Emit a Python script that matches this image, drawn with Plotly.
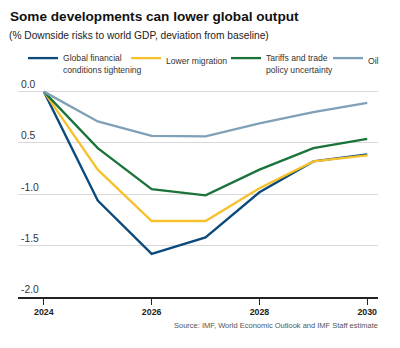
import plotly.graph_objects as go

years = [2024, 2025, 2026, 2027, 2028, 2029, 2030]
financial = [0.0, -1.06, -1.58, -1.42, -0.98, -0.68, -0.61]
migration = [0.0, -0.76, -1.26, -1.26, -0.94, -0.68, -0.62]
tariffs = [0.0, -0.55, -0.95, -1.01, -0.76, -0.55, -0.46]
oil = [0.0, -0.29, -0.43, -0.435, -0.31, -0.20, -0.11]

names = ["Global financial<br>conditions tightening", "Lower migration",
         "Tariffs and trade<br>policy uncertainty", "Oil"]
colors = ["#0d4a7c", "#f6c12c", "#1a7339", "#7fa0b6"]
series = [financial, migration, tariffs, oil]
legend_widths = [58, 55, 57, 14]

ytickvals = [0.0, -0.5, -1.0, -1.5, -2.0]
yticktext = ["0.0", "0.5", "-1.0", "-1.5", "-2.0"]
xtickvals = [2024, 2026, 2028, 2030]

FONT = "Liberation Sans, Arial, sans-serif"
W, H = 400, 348
ML, MR, MT, MB = 18, 22, 75, 51
PW, PH = W - ML - MR, H - MT - MB

fig = go.Figure()
for n, c, s, lw in zip(names, colors, series, legend_widths):
    fig.add_trace(go.Scatter(x=years, y=s, name=n, mode="lines",
                             line=dict(color=c, width=2.3), legendwidth=lw))

fig.update_layout(
    width=W, height=H,
    margin=dict(l=ML, r=MR, t=MT, b=MB),
    paper_bgcolor="white", plot_bgcolor="white",
    font=dict(family=FONT, color="#333333"),
    title=dict(text="<b>Some developments can lower global output</b>",
               x=10 / W, xref="container", xanchor="left",
               y=1 - 16 / H, yref="container", yanchor="middle",
               font=dict(size=13.6, color="#111111", family=FONT)),
    showlegend=True,
    legend=dict(orientation="h", x=(23 - ML) / PW, xanchor="left",
                y=(H - MB - 46) / PH, yanchor="top",
                font=dict(size=8.6, color="#333333"),
                traceorder="normal", valign="top", itemwidth=30,
                bgcolor="rgba(0,0,0,0)"),
    annotations=[
        dict(text="(% Downside risks to world GDP, deviation from baseline)",
             x=(10 - ML) / PW, xref="paper", xshift=-3,
             y=(H - MB - 35.5) / PH, yref="paper",
             showarrow=False, font=dict(size=10.2, color="#222222"),
             xanchor="left", yanchor="middle"),
        dict(text="Source: IMF, World Economic Outlook and IMF Staff estimate",
             x=(380 - ML) / PW, xref="paper", y=(H - MB - 325.5) / PH, yref="paper",
             showarrow=False, font=dict(size=7.5, color="#555555"),
             xanchor="right", yanchor="middle"),
    ],
)

fig.update_xaxes(range=[2023.52, 2030.2], tickvals=xtickvals,
                 ticks="outside", ticklen=6, tickwidth=1.3, tickcolor="#222222",
                 showline=True, linecolor="#222222", linewidth=1.5,
                 showgrid=False, zeroline=False,
                 tickfont=dict(size=8.8, color="#222222", weight="bold"))
fig.update_yaxes(range=[-2.0, 0.162], tickvals=ytickvals, ticktext=yticktext,
                 ticklabelposition="inside top", showgrid=True,
                 gridcolor="#d9d9d9", gridwidth=1, zeroline=False,
                 showline=False, ticks="",
                 tickfont=dict(size=10.3, color="#333333"))

fig.write_html("out.html")
